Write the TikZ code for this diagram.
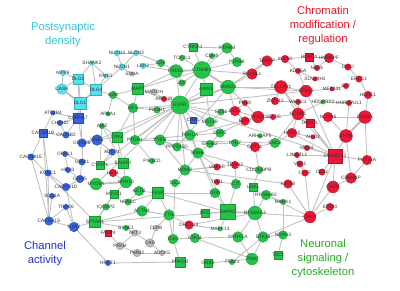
\documentclass[tikz,border=0pt]{standalone}
\usepackage{fontspec}
\setmainfont{Liberation Sans}
\usetikzlibrary{backgrounds}
\definecolor{grn}{RGB}{34,197,72}
\definecolor{rd}{RGB}{238,22,52}
\definecolor{blu}{RGB}{52,98,232}
\definecolor{cyn}{RGB}{82,226,240}
\definecolor{gry}{RGB}{190,190,190}
\definecolor{edg}{RGB}{192,192,192}
\definecolor{cyntxt}{RGB}{45,200,215}
\definecolor{rdtxt}{RGB}{238,20,40}
\definecolor{blutxt}{RGB}{30,50,210}
\definecolor{grntxt}{RGB}{40,170,40}
\tikzset{
  nd/.style={inner sep=0pt,minimum size=#1*0.76pt,line width=.25pt},
  G/.style={nd=#1,circle,fill=grn,draw=grn!75!black},
  Gq/.style={nd=#1,rectangle,fill=grn,draw=grn!75!black},
  R/.style={nd=#1,circle,fill=rd,draw=rd!75!black},
  Rq/.style={nd=#1,rectangle,fill=rd,draw=rd!75!black},
  B/.style={nd=#1,circle,fill=blu,draw=blu!75!black},
  Bq/.style={nd=#1,rectangle,fill=blu,draw=blu!75!black},
  C/.style={nd=#1,circle,fill=cyn,draw=cyn!75!black},
  Cq/.style={nd=#1,rectangle,fill=cyn,draw=cyn!75!black},
  Y/.style={nd=#1,circle,fill=gry,draw=gry!75!black},
  lbl/.style={font=\fontsize{3.4}{3.7}\selectfont,text=black!80,inner sep=0pt},
  edge/.style={draw=edg,line width=.6pt},
  thk/.style={draw=edg,line width=1.3pt},
  cat/.style={font=\fontsize{8}{10}\selectfont,align=center}
}
\newcommand{\nd}[4]{\node[#1,label={[lbl]center:#4}] (#2) at (#3) {};}
\begin{document}
\begin{tikzpicture}[x=0.025cm,y=-0.025cm]
\useasboundingbox (0,0) rectangle (400,290);
% postsynaptic density
\nd{C=5}{nlgn3}{117,53}{NLGN3}
\nd{C=5}{nlgn2}{136,53}{NLGN2}
\nd{C=6}{nlgn1}{122,67}{NLGN1}
\nd{C=4}{shank2}{92,63}{SHANK2}
\nd{C=5}{mpp6}{63,73}{MPP6}
\nd{Cq=9}{dlg2}{78,79}{DLG2}
\nd{C=4}{kms1}{106,76}{KMS1}
\nd{C=5}{lrp2}{143,66}{LRP2}
\nd{C=10}{cask}{62,89}{CASK}
\nd{Cq=10}{dlg4}{96,90}{DLG4}
\nd{Cq=11}{dlg1}{80,103}{DLG1}
% gray
\nd{Y=4}{sdha}{132,74}{SDHA}
\nd{Y=6}{magoh}{154,92}{MAGOH}
\nd{Y=5}{clpb}{156,228}{CLPB}
\nd{Y=6}{akt3}{135,233}{AKT3}
\nd{Y=7}{pfkm}{120,246}{PFKM}
\nd{Y=7}{pmm2}{137,253}{PMM2}
\nd{Y=8}{cad}{150,243}{CAD}
\nd{Y=5}{adck5}{162,253}{ADCK5}
% channel activity
\nd{B=4}{atp2b4}{53,113}{ATP2B4}
\nd{Bq=9}{chrna7}{78,118}{CHRNA7}
\nd{B=5}{chrnd}{60,123}{CHRND}
\nd{Bq=8}{cacna1b}{43,133}{CACNA1B}
\nd{B=6}{cacnb2}{66,135}{CACNB2}
\nd{B=8}{grin2b}{82,143}{GRIN2B}
\nd{B=10}{gnb1}{97,140}{GNB1}
\nd{B=6}{adcy1}{112,152}{ADCY1}
\nd{B=6}{cacna1e}{31,157}{CACNA1E}
\nd{B=5}{oprl1}{65,154}{OPRL1}
\nd{B=6}{gria1}{82,162}{GRIA1}
\nd{B=5}{hrh3}{68,170}{HRH3}
\nd{B=6}{kcnc1}{48,173}{KCNC1}
\nd{B=7}{grm5}{80,179}{GRM5}
\nd{B=7}{cacna1d}{66,187}{CACNA1D}
\nd{B=5}{scn1a}{52,196}{SCN1A}
\nd{B=5}{trpv6}{66,207}{TRPV6}
\nd{B=8}{cacna1s}{49,221}{CACNA1S}
\nd{B=9}{ryr2}{74,227}{RYR2}
\nd{B=5}{hprt1}{108,263}{HPRT1}
\nd{Bq=6}{crb1}{193,120}{CRB1}
% neuronal signaling / cytoskeleton
\nd{Gq=8}{ctnna1}{193,47}{CTNNA1}
\nd{G=10}{ptprm}{227,48}{PTPRM}
\nd{G=5}{tcf7l1}{182,58}{TCF7L1}
\nd{G=5}{cdh5}{212,56}{CDH5}
\nd{G=7}{erf}{161,63}{ERF}
\nd{G=12}{psen1}{176,71}{PSEN1}
\nd{G=16}{ctnnb1}{202,70}{CTNNB1}
\nd{G=9}{ptprk}{237,62}{PTPRK}
\nd{G=6}{jup}{182,83}{JUP}
\nd{Gq=11}{axin1}{206,89}{AXIN1}
\nd{G=13}{smad3}{228,87}{SMAD3}
\nd{Gq=10}{mapt}{138,89}{MAPT}
\nd{G=7}{a2m}{113,95}{A2M}
\nd{G=17}{egfr}{180,105}{EGFR}
\nd{G=6}{pik3r1}{157,110}{PIK3R1}
\nd{G=9}{nf1}{133,108}{NF1}
\nd{G=4}{apba1}{108,114}{APBA1}
\nd{G=5}{abi2}{102,126}{ABI2}
\nd{Gq=9}{crkl}{117,137}{CRKL}
\nd{G=9}{mst1r}{210,122}{MST1R}
\nd{G=6}{sos1}{221,112}{SOS1}
\nd{G=9}{ptgr1}{135,140}{PTGR1}
\nd{G=10}{pten}{160,140}{PTEN}
\nd{G=10}{prkca}{190,135}{PRKCA}
\nd{G=8}{ddr2}{220,133}{DDR2}
\nd{G=8}{ppp2r5d}{177,147}{PPP2R5D}
\nd{G=7}{ephb2}{210,144}{EPHB2}
\nd{G=10}{msh6}{198,153}{MSH6}
\nd{G=7}{ptk7}{235,143}{PTK7}
\nd{G=4}{arhgap5}{260,136}{ARHGAP5}
\nd{G=9}{snca}{275,143}{SNCA}
\nd{G=4}{hdgfrp2}{323,102}{HDGFRP2}
\nd{G=5}{pik3cd}{152,161}{PIK3CD}
\nd{G=10}{mdm2}{185,170}{MDM2}
\nd{G=7}{cdc42bpb}{259,170}{CDC42BPB}
\nd{G=7}{tsc1}{175,183}{TSC1}
\nd{G=9}{cit}{236,184}{CIT}
\nd{Gq=8}{unk1}{253,187}{UNK1}
\nd{Gq=8}{cyfip1}{100,165}{CYFIP1}
\nd{Gq=9}{baiap2}{123,163}{BAIAP2}
\nd{G=11}{myo5a}{96,184}{MYO5A}
\nd{G=11}{myh10}{126,182}{MYH10}
\nd{Gq=7}{myh11}{114,194}{MYH11}
\nd{G=6}{nfasc}{128,202}{NFASC}
\nd{G=6}{iqgap2}{106,207}{IQGAP2}
\nd{Gq=10}{sptan1}{95,222}{SPTAN1}
\nd{G=5}{syne1}{126,228}{SYNE1}
\nd{G=9}{actb}{139,191}{ACTB}
\nd{Gq=10}{flna}{158,193}{FLNA}
\nd{G=10}{actn4}{142,211}{ACTN4}
\nd{G=10}{ttn}{169,215}{TTN}
\nd{G=9}{trio}{215,193}{TRIO}
\nd{Gq=7}{dcc}{205,213}{DCC}
\nd{Gq=14}{mapk1}{228,212}{MAPK1}
\nd{G=13}{rps6ka3}{255,213}{RPS6KA3}
\nd{G=4}{mapk13}{220,229}{MAPK13}
\nd{G=10}{dyrk1a}{238,237}{DYRK1A}
\nd{G=9}{tlk2}{173,239}{TLK2}
\nd{G=9}{stk11}{195,238}{STK11}
\nd{Gq=9}{prkcb}{180,262}{PRKCB}
\nd{Gq=7}{gnb2}{208,263}{GNB2}
\nd{G=5}{ttbk1}{232,262}{TTBK1}
\nd{G=11}{tnik}{252,259}{TNIK}
\nd{G=10}{stk38}{263,237}{STK38}
\nd{G=8}{nrxn3}{283,235}{NRXN3}
\nd{Gq=8}{tsc2}{278,255}{TSC2}
\nd{G=9}{rps6kb2}{266,195}{RPS6KB2}
\nd{G=5}{mark1}{283,202}{MARK1}
% chromatin modification / regulation
\nd{R=10}{trrap}{267,61}{TRRAP}
\nd{R=7}{ino80}{285,59}{INO80}
\nd{Rq=7}{hdac4}{309,57}{HDAC4}
\nd{R=5}{nsd1}{317,68}{NSD1}
\nd{R=9}{hnrnpf}{329,58}{HNRNPF}
\nd{R=6}{dido}{348,67}{DIDO}
\nd{R=6}{ercc1}{359,79}{ERCC1}
\nd{R=5}{kdm5a}{298,71}{KDM5A}
\nd{R=4}{suv39h1}{315,79}{SUV39H1}
\nd{R=12}{tbl1xr1}{281,87}{TBL1XR1}
\nd{R=11}{ep300}{306,91}{EP300}
\nd{R=4}{med13l}{332,89}{MED13L}
\nd{R=5}{set}{346,86}{SET}
\nd{R=7}{hdac1}{368,95}{HDAC1}
\nd{R=10}{ruvbl1}{252,74}{RUVBL1}
\nd{R=5}{arid1b}{164,99}{ARID1B}
\nd{R=7}{znf711}{275,101}{ZNF711}
\nd{R=5}{whsc1}{298,102}{WHSC1}
\nd{R=5}{hnrnpul1}{349,103}{HNRNPUL1}
\nd{R=11}{ncor1}{298,114}{NCOR1}
\nd{R=5}{setd5}{273,117}{SETD5}
\nd{Rq=8}{tada2l}{310,123}{TADA2L}
\nd{R=9}{ncoa6}{328,117}{NCOA6}
\nd{R=12}{ddx3x}{365,117}{DDX3X}
\nd{R=9}{hdac2}{292,133}{HDAC2}
\nd{R=4}{arid2}{313,137}{ARID2}
\nd{R=12}{dhx9}{346,136}{DHX9}
\nd{R=5}{mbd4}{307,148}{MBD4}
\nd{R=5}{l3mbtl1}{297,155}{L3MBTL1}
\nd{Rq=13}{smarca2}{335,156}{SMARCA2}
\nd{R=9}{phf21a}{367,160}{PHF21A}
\nd{R=6}{vrk1}{300,164}{VRK1}
\nd{R=6}{ctcf}{305,173}{CTCF}
\nd{R=6}{cbx1}{322,172}{CBX1}
\nd{R=10}{crebbp}{351,178}{CREBBP}
\nd{R=8}{kat6b}{288,184}{KAT6B}
\nd{R=11}{chd8}{333,187}{CHD8}
\nd{R=11}{chd2}{310,217}{CHD2}
\nd{R=7}{ep400}{330,207}{EP400}
\nd{R=5}{phf8}{245,103}{PHF8}
\nd{R=9}{cul3}{235,111}{CUL3}
\nd{R=8}{ezh2}{245,121}{EZH2}
\nd{R=11}{pogz}{258,117}{POGZ}
\nd{R=9}{dot1l}{255,147}{DOT1L}
\nd{R=6}{ube3c}{217,167}{UBE3C}
\nd{R=7}{trip12}{235,165}{TRIP12}
\nd{R=5}{tbr1}{217,182}{TBR1}
\nd{R=7}{leo1}{113,173}{LEO1}
\nd{R=8}{dhcr24}{189,225}{DHCR24}
\nd{Rq=6}{fabp4}{108,233}{FABP4}
% group titles
\node[cat,text=cyntxt] (psd) at (63,35) {Postsynaptic\\density};
\node[cat,text=rdtxt] (chrom) at (323,26) {Chromatin\\modification /\\regulation};
\node[cat,text=blutxt] (chan) at (45,254) {Channel\\activity};
\node[cat,text=grntxt] (neur) at (323,259) {Neuronal\\signaling /\\cytoskeleton};
\begin{scope}[on background layer]
\fill[white] (0,0) rectangle (400,290);
\foreach \a/\b in {nlgn3/nlgn2,nlgn3/nlgn1,nlgn2/nlgn1,shank2/dlg2,shank2/dlg4,shank2/kms1,
  mpp6/dlg2,cask/dlg2,dlg2/dlg4,dlg4/kms1,nlgn1/dlg4,nlgn2/erf,lrp2/psen1,dlg4/a2m,
  dlg1/grin2b,dlg1/chrna7,sdha/nlgn1,cask/mpp6,
  atp2b4/cacna1b,atp2b4/chrna7,chrnd/chrna7,chrnd/cacnb2,chrna7/cacnb2,chrna7/grin2b,
  cacnb2/cacna1b,cacna1b/cacna1e,cacna1b/cacna1s,cacna1b/kcnc1,grin2b/gnb1,gnb1/adcy1,
  oprl1/gria1,oprl1/hrh3,hrh3/grm5,gria1/grm5,grm5/cacna1d,kcnc1/cacna1s,kcnc1/cacna1d,
  cacna1e/cacna1s,scn1a/cacna1s,trpv6/cacna1s,trpv6/ryr2,cacna1d/ryr2,cacna1s/ryr2,
  ryr2/hprt1,grin2b/gria1,adcy1/cyfip1,gnb1/egfr,hprt1/prkcb,
  a2m/nf1,apba1/a2m,abi2/crkl,crkl/nf1,nf1/egfr,nf1/pik3r1,pik3r1/egfr,mapt/psen1,
  mapt/egfr,magoh/arid1b,crkl/baiap2,cyfip1/baiap2,baiap2/myh10,leo1/myh10,myh10/myh11,
  myh11/sptan1,iqgap2/sptan1,sptan1/syne1,sptan1/actn4,nfasc/actb,actb/flna,flna/ttn,
  actn4/ttn,actn4/flna,ttn/dhcr24,syne1/akt3,fabp4/pfkm,pfkm/pmm2,pfkm/akt3,cad/adck5,
  cad/clpb,clpb/ttn,ptgr1/pten,ptgr1/pik3cd,pten/egfr,pten/ppp2r5d,prkca/egfr,msh6/egfr,
  msh6/prkca,mdm2/msh6,mdm2/pten,crb1/egfr,mst1r/egfr,sos1/egfr,sos1/mst1r,ddr2/mst1r,
  ddr2/ephb2,ephb2/msh6,ptk7/ephb2,tsc1/mdm2,
  ctnna1/ctnnb1,ctnna1/ptprm,ptprm/ptprk,ptprm/ctnnb1,cdh5/ctnnb1,tcf7l1/ctnnb1,
  psen1/erf,psen1/jup,erf/lrp2,jup/ctnnb1,ctnnb1/axin1,ctnnb1/ptprk,ctnnb1/ruvbl1,
  ctnnb1/egfr,psen1/egfr,smad3/ruvbl1,smad3/ep300,smad3/tbl1xr1,axin1/egfr,ruvbl1/trrap,
  trrap/ino80,ino80/hdac4,hdac4/hnrnpf,hdac4/nsd1,hnrnpf/nsd1,hnrnpf/dido,dido/ercc1,
  ino80/kdm5a,kdm5a/suv39h1,kdm5a/ep300,tbl1xr1/ep300,tbl1xr1/ncor1,ep300/med13l,
  med13l/set,ercc1/hdac1,hdac1/ddx3x,ddx3x/ncoa6,ddx3x/phf21a,ep300/smarca2,
  tbl1xr1/smarca2,ncor1/tada2l,ncor1/hdac2,ncor1/setd5,ncor1/whsc1,ncor1/smarca2,
  tada2l/smarca2,ncoa6/dhx9,hnrnpul1/dhx9,dhx9/smarca2,hdac2/arid2,hdac2/smarca2,
  mbd4/smarca2,l3mbtl1/smarca2,smarca2/cbx1,smarca2/chd8,smarca2/chd2,smarca2/phf21a,
  phf21a/crebbp,crebbp/chd8,dhx9/crebbp,vrk1/ctcf,ctcf/chd2,kat6b/chd2,chd8/chd2,
  chd2/ep400,chd2/rps6ka3,chd2/stk38,hdgfrp2/ncor1,hdgfrp2/hnrnpul1,whsc1/znf711,
  znf711/tbl1xr1,setd5/pogz,pogz/cul3,cul3/ezh2,phf8/cul3,ezh2/ddr2,dot1l/snca,
  snca/hdac2,snca/ncor1,dot1l/cdc42bpb,trip12/cit,ube3c/mdm2,tbr1/cit,cdc42bpb/unk1,
  trio/mapk1,dcc/mapk1,mapk1/mapk13,rps6ka3/dyrk1a,rps6ka3/stk38,rps6ka3/rps6kb2,
  rps6kb2/mark1,mark1/nrxn3,stk38/nrxn3,nrxn3/tsc2,stk38/tnik,tnik/dyrk1a,tnik/stk11,
  tlk2/stk11,ttbk1/stk38,gnb2/tnik,prkcb/tlk2,unk1/rps6ka3,cit/mapk1,msh6/mapk1,
  trio/msh6,sptan1/mapk1,egfr/smarca2,ptgr1/ddr2,cacna1e/sptan1,egfr/ep300,
  pten/snca,tsc1/tlk2,dhcr24/rps6ka3,ryr2/sptan1,mapt/ctnnb1,prkca/pogz,ppp2r5d/smad3,
  cyfip1/abi2,trrap/smad3,msh6/cdc42bpb,mdm2/kat6b,flna/trio,
  egfr/cyfip1,egfr/ptgr1,egfr/mdm2,egfr/ppp2r5d,egfr/crkl,nf1/ptgr1,gnb1/crkl,
  abi2/baiap2,pten/msh6,msh6/ube3c,mdm2/trip12,ptk7/dot1l,cul3/sos1,smad3/pogz,
  smad3/cul3,axin1/mst1r,nf1/mapt,a2m/mapt,dhcr24/mapk13,stk11/dyrk1a,ttn/tlk2,
  flna/mapk1,nfasc/flna,iqgap2/myh11,akt3/cad,pmm2/adck5,rps6kb2/chd2,egfr/myo5a}
  \draw[edge] (\a) -- (\b);
\foreach \a/\b in {cask/dlg1,dlg2/dlg1,dlg4/dlg1,myo5a/myh10,psen1/ctnnb1,ctnnb1/smad3,
  smad3/egfr,ddx3x/dhx9,mapk1/rps6ka3}
  \draw[thk] (\a) -- (\b);
\end{scope}
\end{tikzpicture}
\end{document}
